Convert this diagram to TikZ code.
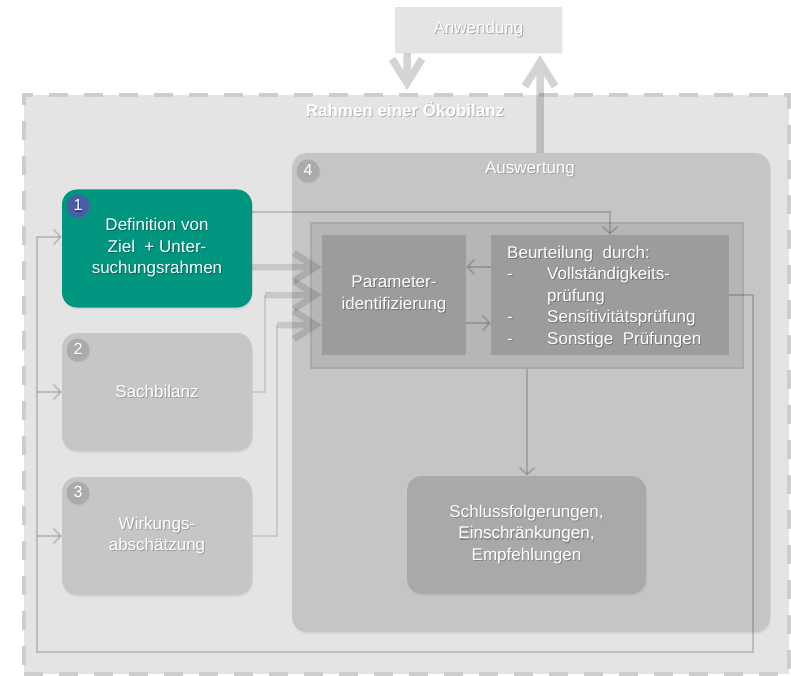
\documentclass[tikz,border=0pt]{standalone}
\usepackage{fontspec}
\setmainfont{Liberation Sans}
\usetikzlibrary{arrows.meta,shadows,calc}

\definecolor{framefill}{HTML}{E4E4E4}
\definecolor{framedash}{HTML}{CDCDCD}
\definecolor{tealbox}{HTML}{00957F}
\definecolor{phasegray}{HTML}{C6C6C6}
\definecolor{evalgray}{HTML}{C5C5C5}
\definecolor{innergray}{HTML}{B6B6B6}
\definecolor{innerline}{HTML}{A9A9A9}
\definecolor{stepgray}{HTML}{9C9C9C}
\definecolor{resultgray}{HTML}{A9A9A9}
\definecolor{badgeblue}{HTML}{4A5CA6}
\definecolor{badgegray}{HTML}{ABABAB}

% white text with a slightly offset darker copy behind it
\newcommand\shd[2][black!35]{\leavevmode\rlap{\kern0.9pt\raisebox{-1.2pt}{\textcolor{#1}{#2}}}#2}

\tikzset{
  txt/.style={text=white, font=\fontsize{17}{21.5}\selectfont, align=center, inner sep=0pt},
  phasebox/.style={rounded corners=15pt, minimum width=190pt, minimum height=118pt, inner sep=0pt,
    txt, drop shadow={opacity=0.12, shadow xshift=1pt, shadow yshift=-2pt}},
  stepbox/.style={minimum width=144pt, minimum height=120pt, inner sep=0pt, fill=stepgray, txt},
  badge/.style={circle, minimum size=23pt, inner sep=0pt, text=white, font=\fontsize{16}{16}\selectfont,
    drop shadow={opacity=0.15, shadow xshift=0.8pt, shadow yshift=-1.2pt}},
  thinarrow/.style={draw=black, draw opacity=0.17, line width=1.8pt,
    -{Straight Barb[length=7pt,width=15pt]}},
  thinline/.style={draw=black, draw opacity=0.17, line width=1.8pt},
  feedline/.style={draw=black, draw opacity=0.11, line width=2.6pt},
  feedgroup/.style={transparency group, opacity=0.12},
  feedarrow/.style={draw=black, line width=6.5pt, line join=miter,
    -{Straight Barb[length=22pt,width=28pt]}},
  biggroup/.style={transparency group, opacity=0.17},
  bigarrow/.style={draw=black, line width=7.5pt, line join=miter,
    -{Straight Barb[length=24pt,width=30pt]}},
}

\begin{document}
\begin{tikzpicture}[x=1pt,y=-1pt]
\useasboundingbox (0,0) rectangle (791,676);

% life cycle assessment frame
\node[draw=framedash, fill=framefill, line width=4pt, dash pattern=on 19pt off 16pt,
      minimum width=765pt, minimum height=579pt, inner sep=0pt] (lca) at (406.5,384.5) {};
\node[txt, font=\fontsize{17}{21.5}\selectfont\bfseries] (lcatitle) at (405,110)
  {\shd[black!30]{Rahmen einer Ökobilanz}};

% application
\node[fill=framefill, minimum width=167pt, minimum height=46pt, inner sep=0pt, txt,
      drop shadow={opacity=0.08, shadow xshift=1pt, shadow yshift=-1.5pt}] (app) at (478.5,30)
  {\shd[black!35]{Anwendung}};

% interpretation phase
\node[fill=evalgray, rounded corners=15pt, minimum width=478pt, minimum height=479pt, inner sep=0pt,
      drop shadow={opacity=0.12, shadow xshift=1pt, shadow yshift=-2pt}] (eval) at (531,392.5) {};
\node[txt] (evaltitle) at (530,170) {\shd[black!38]{Auswertung}};
\node[badge, fill=badgegray] (b4) at (308,171) {\shd[black!35]{4}};

\node[fill=innergray, draw=innerline, line width=2pt, minimum width=432pt, minimum height=145pt,
      inner sep=0pt] (inner) at (527,295.5) {};
\node[stepbox] (param) at (394,295) {\shd[black!55]{Parameter-}\\\shd[black!55]{identifizierung}};
\node[stepbox, minimum width=238pt] (beurt) at (610,295) {};
\node[anchor=base west, text=white, inner sep=0pt] (beurttext) at (507,258)
  {\fontsize{17}{21.5}\selectfont
   \begin{tabular}[t]{@{}p{40pt}@{}l@{}}
   \multicolumn{2}{@{}l@{}}{\shd[black!55]{Beurteilung\ \ durch:}}\\
   \shd[black!55]{-} & \shd[black!55]{Vollständigkeits-}\\
                     & \shd[black!55]{prüfung}\\
   \shd[black!55]{-} & \shd[black!55]{Sensitivitätsprüfung}\\
   \shd[black!55]{-} & \shd[black!55]{Sonstige\ \ Prüfungen}
   \end{tabular}};

\node[fill=resultgray, rounded corners=15pt, minimum width=239pt, minimum height=118pt, inner sep=0pt, txt,
      drop shadow={opacity=0.1, shadow xshift=1pt, shadow yshift=-2pt}] (concl) at (526.5,535)
  {\shd[black!48]{Schlussfolgerungen,}\\\shd[black!48]{Einschränkungen,}\\\shd[black!48]{Empfehlungen}};

% phases 1 to 3
\node[phasebox, fill=tealbox] (def) at (157,248.5)
  {\shd[tealbox!70!black]{Definition von}\\\shd[tealbox!70!black]{Ziel\ \ + Unter-}\\\shd[tealbox!70!black]{suchungsrahmen}};
\node[phasebox, fill=phasegray] (inv) at (157,392) {\shd[black!40]{Sachbilanz}};
\node[phasebox, fill=phasegray] (lcia) at (157,536)
  {\shd[black!40]{Wirkungs-}\\\shd[black!40]{abschätzung}};

\node[badge, fill=badgeblue] (b1) at (78,206) {\shd[badgeblue!60!black]{1}};
\node[badge, fill=badgegray] (b2) at (78,350) {\shd[black!35]{2}};
\node[badge, fill=badgegray] (b3) at (78,493) {\shd[black!35]{3}};

% helper coordinates for connector bends
\coordinate (xa) at (407,0);
\coordinate (xb) at (540,0);
\coordinate (xc) at (610,0);
\coordinate (xd) at (527,0);
\coordinate (ya) at (0,212);
\coordinate (yb) at (0,267);
\coordinate (yc) at (0,323);
\coordinate (yd) at (0,295);
\coordinate (ye) at (0,325);
\coordinate (fbR) at (753,295);
\coordinate (fbRB) at (753,652);
\coordinate (fbLB) at (37,652);
\coordinate (fbL1) at (37,237);
\coordinate (fbL2) at (37,392);
\coordinate (fbL3) at (37,536);
\coordinate (invbend) at (265,392);
\coordinate (invup) at (265,295);
\coordinate (liabend) at (277,536);
\coordinate (liaup) at (277,325);

% application links
\begin{scope}[biggroup]
  \draw[bigarrow] (app.south -| xa) -- ($(lca.north -| xa)+(0,-3)$);
\end{scope}
\begin{scope}[biggroup]
  \draw[bigarrow] (eval.north -| xb) -- ($(app.south -| xb)+(0,2)$);
\end{scope}

% links inside the interpretation
\draw[thinarrow] (def.east |- ya) -- (xc |- ya) -- (beurt.north -| xc);
\draw[thinarrow] (beurt.west |- yb) -- (param.east |- yb);
\draw[thinarrow] (param.east |- yc) -- (beurt.west |- yc);
\draw[thinarrow] (inner.south -| xd) -- (concl.north -| xd);

% feedback loop to phases 1 to 3
\draw[thinline] (beurt.east |- fbR) -- (fbR) -- (fbRB) -- (fbLB) -- (fbL1);
\draw[thinarrow] (fbL1) -- (def.west |- fbL1);
\draw[thinarrow] (fbL2) -- (inv.west |- fbL2);
\draw[thinarrow] (fbL3) -- (lcia.west |- fbL3);

% phase results into parameter identification
\draw[feedline] (inv.east) -- (invbend) -- (invup);
\draw[feedline] (lcia.east) -- (liabend) -- (liaup);
\begin{scope}[feedgroup]
  \draw[feedarrow] (def.east |- yb) -- (param.west |- yb);
\end{scope}
\begin{scope}[feedgroup]
  \draw[feedarrow] (invup) -- (param.west |- yd);
\end{scope}
\begin{scope}[feedgroup]
  \draw[feedarrow] (liaup) -- (param.west |- ye);
\end{scope}
\end{tikzpicture}
\end{document}
